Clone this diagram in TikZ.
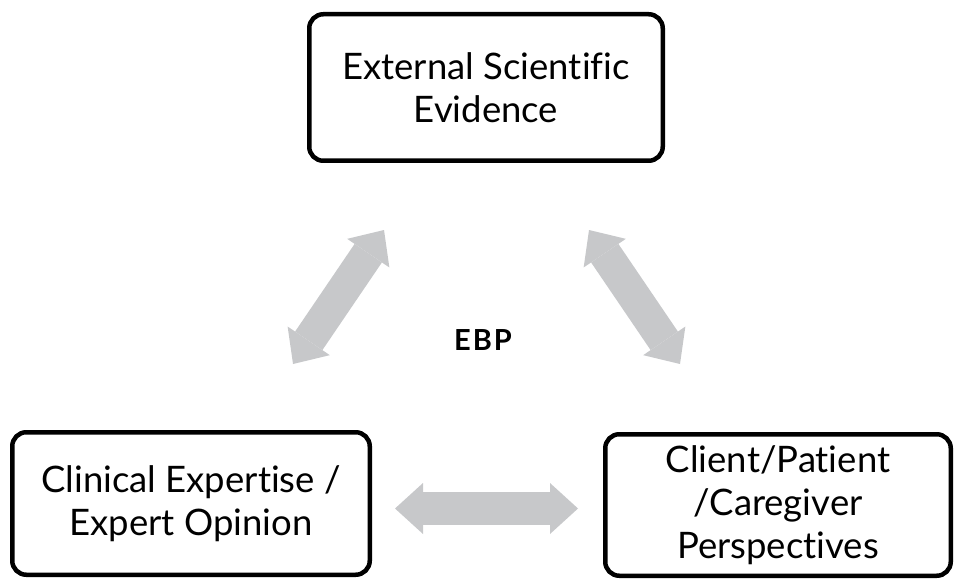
\documentclass[tikz,border=0pt]{standalone}
\usepackage{fontspec}
\setmainfont{Lato}[Ligatures={NoCommon}]
\usetikzlibrary{arrows.meta}
\definecolor{arrowgray}{HTML}{C7C8CA}
\tikzset{
  box/.style={draw=black, line width=4.5pt, rounded corners=14pt, align=center,
    font=\fontsize{36.5}{43}\selectfont, inner sep=0pt},
  dblarrow/.style={draw=arrowgray, line width=33pt,
    {Triangle[length=28pt,width=51pt,line width=0pt]}-{Triangle[length=28pt,width=51pt,line width=0pt]}},
  label/.style={font=\fontsize{29}{34}\selectfont\bfseries, inner sep=0pt}
}
\begin{document}
\begin{tikzpicture}[x=1pt,y=-1pt]
\useasboundingbox (0,0) rectangle (955,580);
\node[box, minimum width=353.5pt, minimum height=146.5pt] (ext) at (486,87.5) {External Scientific\\Evidence};
\node[box, minimum width=357.5pt, minimum height=142.5pt] (clin) at (191,503.5) {Clinical Expertise /\\Expert Opinion};
\node[box, minimum width=345.5pt, minimum height=141.5pt] (client) at (778,505) {Client/Patient\\/Caregiver\\Perspectives};
\node[label, anchor=base] (ebp) at (483,350) {E\kern2pt B\kern2pt P};
\coordinate (la) at (293,364);
\coordinate (lb) at (384,230);
\coordinate (ra) at (589,230);
\coordinate (rb) at (680,364);
\coordinate (ha) at (395,508.5);
\coordinate (hb) at (578,508.5);
\draw[dblarrow] (la) -- (lb);
\draw[dblarrow] (ra) -- (rb);
\draw[dblarrow] (ha) -- (hb);
\end{tikzpicture}
\end{document}
